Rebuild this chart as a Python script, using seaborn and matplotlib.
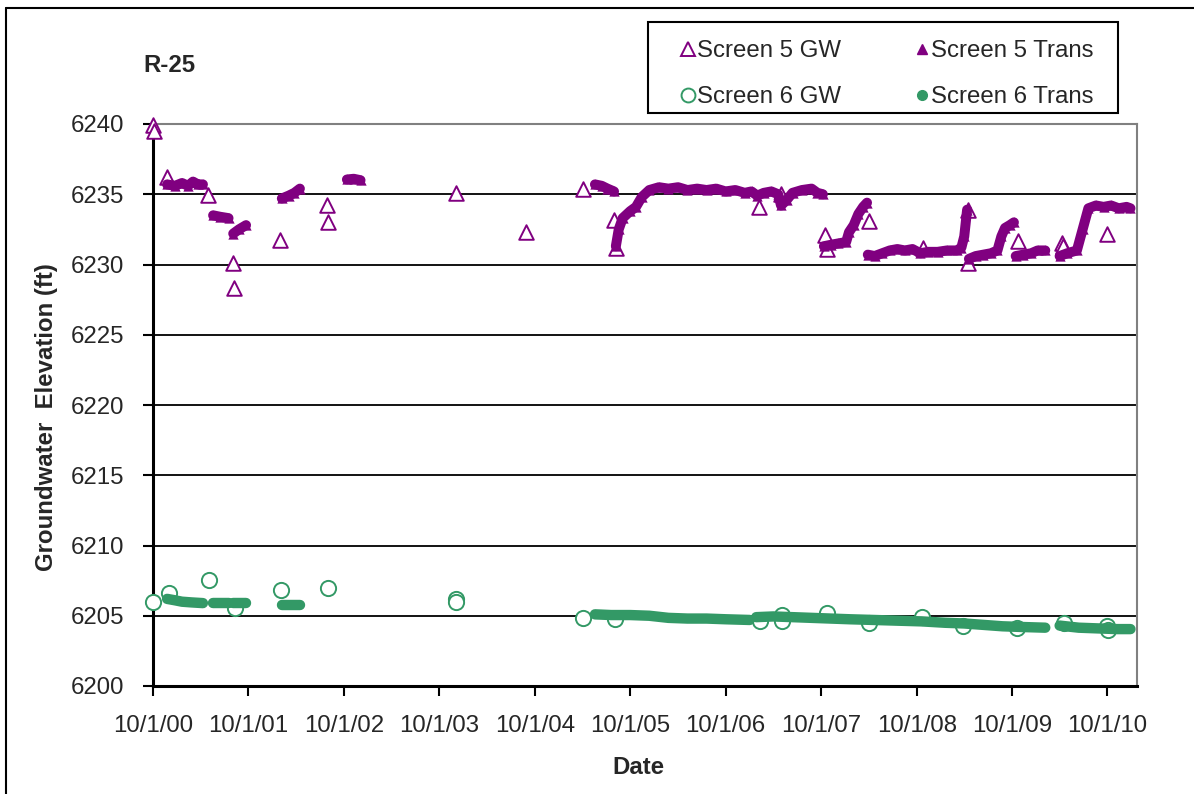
import pandas as pd
import matplotlib
matplotlib.use("Agg")
import matplotlib.pyplot as plt
from matplotlib.lines import Line2D
from matplotlib.patches import Rectangle
import seaborn as sns

# R-25 groundwater elevations, screens 5 and 6

purple = "#800080"
green = "#339966"

# manual (GW) measurements
s5_gw_dates = ["2000-10-01", "2000-10-03", "2000-11-22", "2001-04-28", "2001-08-04",
               "2001-08-07", "2002-01-29", "2002-07-30", "2002-08-03", "2003-12-04",
               "2004-08-27", "2005-04-03", "2005-07-31", "2005-08-08", "2007-02-06",
               "2007-04-29", "2007-10-16", "2007-10-25", "2008-04-02", "2008-10-26",
               "2009-04-15", "2009-04-17", "2009-10-24", "2010-04-10", "2010-04-13",
               "2010-09-30"]
s5_gw_vals = [6239.9, 6239.5, 6236.2, 6234.95, 6230.1,
              6228.35, 6231.75, 6234.25, 6233.0, 6235.1,
              6232.3, 6235.4, 6233.2, 6231.15, 6234.1,
              6235.0, 6232.1, 6231.1, 6233.1, 6231.2,
              6233.9, 6230.1, 6231.7, 6231.5, 6231.3,
              6232.2]

s6_gw_dates = ["2000-10-01", "2000-12-01", "2001-05-03", "2001-08-10", "2002-02-01",
               "2002-08-03", "2003-12-04", "2003-12-05", "2005-04-02", "2005-08-03",
               "2007-02-09", "2007-05-03", "2007-05-06", "2007-10-22", "2008-04-01",
               "2008-10-22", "2009-03-28", "2009-10-19", "2010-04-16", "2010-10-01",
               "2010-10-03"]
s6_gw_vals = [6205.95, 6206.6, 6207.55, 6205.55, 6206.85,
              6206.97, 6206.2, 6206.0, 6204.85, 6204.75,
              6204.65, 6205.05, 6204.6, 6205.2, 6204.5,
              6204.9, 6204.25, 6204.15, 6204.5, 6204.3,
              6204.0]

# transducer records (segment number, date, elevation)
s5_tr_seg = [1] * 7 + [2] * 3 + [3] * 3 + [4] * 4 + [5] * 3 + [6] * 4 + [7] * 29 \
    + [8] * 9 + [9] * 15 + [10] * 9 + [11] * 5 + [12] * 11
s5_tr_dates = ["2000-11-24", "2000-12-24", "2001-01-20", "2001-02-12", "2001-03-03", "2001-03-22", "2001-04-10",
               "2001-05-19", "2001-06-14", "2001-07-17",
               "2001-08-04", "2001-08-26", "2001-09-22",
               "2002-02-06", "2002-03-04", "2002-03-26", "2002-04-16",
               "2002-10-13", "2002-11-08", "2002-12-04",
               "2005-05-19", "2005-06-14", "2005-07-06", "2005-07-31",
               "2005-08-07", "2005-08-18", "2005-09-02", "2005-10-01", "2005-10-23", "2005-11-14",
               "2005-12-13", "2006-01-19", "2006-02-24", "2006-04-02", "2006-05-08", "2006-06-14",
               "2006-07-20", "2006-08-26", "2006-10-01", "2006-11-07", "2006-12-13", "2007-01-08",
               "2007-01-30", "2007-02-24", "2007-03-25", "2007-04-20", "2007-05-01", "2007-05-23",
               "2007-06-14", "2007-07-20", "2007-08-26", "2007-09-17", "2007-10-08",
               "2007-10-12", "2007-11-07", "2007-12-06", "2008-01-05", "2008-01-16", "2008-02-03",
               "2008-02-21", "2008-03-10", "2008-03-25",
               "2008-03-28", "2008-04-23", "2008-05-22", "2008-06-20", "2008-07-19", "2008-08-17",
               "2008-09-15", "2008-10-15", "2008-11-13", "2008-12-20", "2009-01-25", "2009-03-03",
               "2009-03-21", "2009-04-01", "2009-04-12",
               "2009-04-19", "2009-05-15", "2009-06-13", "2009-07-12", "2009-08-06", "2009-08-21",
               "2009-09-04", "2009-09-22", "2009-10-08",
               "2009-10-15", "2009-11-13", "2009-12-13", "2010-01-07", "2010-02-05",
               "2010-04-01", "2010-04-30", "2010-06-06", "2010-06-28", "2010-07-20", "2010-08-18",
               "2010-09-16", "2010-10-15", "2010-11-13", "2010-12-13", "2010-12-28"]
s5_tr_vals = [6235.7, 6235.6, 6235.8, 6235.6, 6235.9, 6235.7, 6235.7,
              6233.5, 6233.4, 6233.3,
              6232.2, 6232.5, 6232.8,
              6234.7, 6234.9, 6235.1, 6235.4,
              6236.05, 6236.1, 6236.0,
              6235.7, 6235.6, 6235.4, 6235.2,
              6231.3, 6232.5, 6233.3, 6233.8, 6234.1, 6234.8,
              6235.3, 6235.5, 6235.4, 6235.5, 6235.3, 6235.4,
              6235.3, 6235.4, 6235.2, 6235.3, 6235.1, 6235.2,
              6234.9, 6235.1, 6235.2, 6235.0, 6234.2, 6234.6,
              6235.1, 6235.3, 6235.4, 6235.1, 6235.0,
              6231.3, 6231.4, 6231.5, 6231.6, 6232.3, 6232.8,
              6233.6, 6234.1, 6234.4,
              6230.7, 6230.6, 6230.8, 6231.0, 6231.1, 6231.0,
              6231.1, 6230.8, 6230.9, 6230.9, 6231.0, 6231.0,
              6231.2, 6232.0, 6233.9,
              6230.4, 6230.6, 6230.7, 6230.8, 6231.0, 6232.0,
              6232.6, 6232.8, 6233.0,
              6230.6, 6230.7, 6230.8, 6231.0, 6231.0,
              6230.6, 6230.8, 6231.0, 6232.5, 6234.0, 6234.2,
              6234.1, 6234.2, 6234.0, 6234.1, 6234.0]

s6_tr_seg = [1] * 5 + [2] * 2 + [3] * 2 + [4] * 2 + [5] * 9 + [6] * 15 + [7] * 5
s6_tr_dates = ["2000-11-24", "2000-12-24", "2001-01-20", "2001-02-25", "2001-04-10",
               "2001-05-19", "2001-07-17",
               "2001-08-04", "2001-09-22",
               "2002-02-06", "2002-04-16",
               "2005-05-19", "2005-07-20", "2005-10-01", "2005-12-13", "2006-02-24",
               "2006-05-08", "2006-07-20", "2006-10-01", "2007-01-01",
               "2007-01-26", "2007-04-01", "2007-06-14", "2007-08-26", "2007-11-07",
               "2008-01-19", "2008-04-20", "2008-07-19", "2008-10-19", "2009-01-18",
               "2009-04-01", "2009-06-13", "2009-08-25", "2009-11-07", "2010-02-05",
               "2010-04-01", "2010-06-13", "2010-08-25", "2010-11-06", "2010-12-28"]
s6_tr_vals = [6206.2, 6206.1, 6206.0, 6205.95, 6205.9,
              6205.9, 6205.9,
              6205.9, 6205.9,
              6205.75, 6205.75,
              6205.1, 6205.05, 6205.05, 6205.0, 6204.85,
              6204.8, 6204.8, 6204.75, 6204.7,
              6204.9, 6204.95, 6204.9, 6204.85, 6204.8,
              6204.75, 6204.7, 6204.65, 6204.6, 6204.5,
              6204.45, 6204.35, 6204.25, 6204.2, 6204.15,
              6204.3, 6204.15, 6204.1, 6204.05, 6204.05]

tick_dates = ["2000-10-01", "2001-10-01", "2002-10-01", "2003-10-01", "2004-10-01", "2005-10-01",
              "2006-10-01", "2007-10-01", "2008-10-01", "2009-10-01", "2010-10-01"]
tick_labels = ["10/1/00", "10/1/01", "10/1/02", "10/1/03", "10/1/04", "10/1/05",
               "10/1/06", "10/1/07", "10/1/08", "10/1/09", "10/1/10"]

tr5 = pd.DataFrame({"date": pd.to_datetime(s5_tr_dates), "elev": s5_tr_vals, "seg": s5_tr_seg})
tr6 = pd.DataFrame({"date": pd.to_datetime(s6_tr_dates), "elev": s6_tr_vals, "seg": s6_tr_seg})

sns.set_style("white")
plt.rcParams["font.family"] = ["Liberation Sans", "DejaVu Sans"]
fs = 17.3

fig = plt.figure(figsize=(11.94, 7.94), dpi=100)
ax = fig.add_axes([153 / 1194, 1 - 686 / 794, 984 / 1194, 562 / 794])

# manual measurements (open markers)
sns.scatterplot(x=pd.to_datetime(s5_gw_dates), y=s5_gw_vals, marker="^", s=110,
                facecolor="white", edgecolor=purple, linewidth=1.4, clip_on=False, zorder=3, ax=ax)
sns.scatterplot(x=pd.to_datetime(s6_gw_dates), y=s6_gw_vals, marker="o", s=120,
                facecolor="white", edgecolor=green, linewidth=1.4, clip_on=False, zorder=3, ax=ax)

# transducer records (dense filled markers)
sns.lineplot(data=tr5, x="date", y="elev", units="seg", estimator=None, sort=False,
             color=purple, lw=7.2, solid_capstyle="round", zorder=4, ax=ax)
sns.scatterplot(data=tr5, x="date", y="elev", marker="^", s=55, color=purple,
                edgecolor=purple, linewidth=0, zorder=4, ax=ax)
sns.lineplot(data=tr6, x="date", y="elev", units="seg", estimator=None, sort=False,
             color=green, lw=7.5, solid_capstyle="round", zorder=4, ax=ax)

ax.set_ylim(6200, 6240)
ax.set_yticks(range(6200, 6241, 5))
ax.set_xlim(pd.Timestamp("2000-10-01"), pd.Timestamp("2011-01-22"))
ax.set_xticks(pd.to_datetime(tick_dates))
ax.set_xticklabels(tick_labels)

ax.set_axisbelow(True)
ax.yaxis.grid(True, color="black", lw=1.3)
for side in ["left", "bottom"]:
    ax.spines[side].set_color("black")
    ax.spines[side].set_linewidth(2.2)
for side in ["top", "right"]:
    ax.spines[side].set_color("#808080")
    ax.spines[side].set_linewidth(1.5)

ax.tick_params(axis="both", direction="out", length=7, width=1.5, color="black",
               labelsize=fs, pad=14, left=True, bottom=True)
ax.set_xlabel("Date", fontsize=fs, fontweight="bold")
ax.set_ylabel("Groundwater  Elevation (ft)", fontsize=fs, fontweight="bold")
ax.xaxis.set_label_coords(0.493, -0.125)
ax.yaxis.set_label_coords(-0.097, 0.479)

fig.text(143 / 1194, 1 - 65 / 794, "R-25", fontsize=fs, fontweight="bold", ha="left", va="center")

handles = [
    Line2D([], [], ls="none", marker="^", ms=10, mfc="none", mec=purple, mew=1.4),
    Line2D([], [], ls="none", marker="o", ms=10, mfc="none", mec=green, mew=1.4),
    Line2D([], [], ls="none", marker="^", ms=7, mfc=purple, mec=purple),
    Line2D([], [], ls="none", marker="o", ms=7, mfc=green, mec=green),
]
labels = ["Screen 5 GW", "Screen 6 GW", "Screen 5 Trans", "Screen 6 Trans"]
fig.legend(handles, labels, ncol=2, loc="upper left",
           bbox_to_anchor=(648 / 1194, 1 - 26 / 794), bbox_transform=fig.transFigure,
           fontsize=fs, frameon=False, borderpad=0.6, borderaxespad=0,
           handlelength=2.13, handletextpad=-0.69, columnspacing=2.3, labelspacing=1.0)
# legend box
fig.add_artist(Rectangle((648 / 1194, 1 - 113 / 794), 470 / 1194, 91 / 794,
                         transform=fig.transFigure, fill=False, edgecolor="black", lw=1.5))

# outer chart frame
fig.add_artist(Line2D([6 / 1194, 6 / 1194], [0, 1 - 8 / 794], color="black", lw=1.5))
fig.add_artist(Line2D([6 / 1194, 1], [1 - 8 / 794, 1 - 8 / 794], color="black", lw=1.5))

fig.savefig("out.png", dpi=100)
